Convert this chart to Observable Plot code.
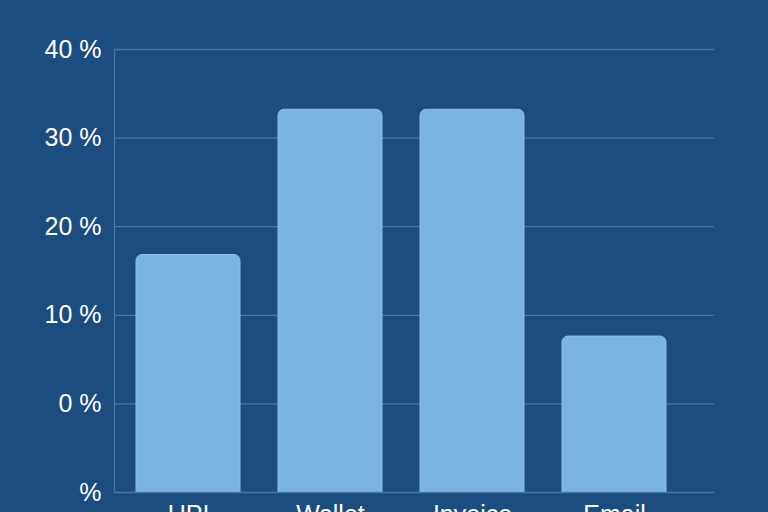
<!DOCTYPE html>
<html>
<head>
<meta charset="utf-8">
<script src="https://cdn.jsdelivr.net/npm/d3@7"></script>
<script src="https://cdn.jsdelivr.net/npm/@observablehq/plot@0.6"></script>
<style>
  html, body { margin: 0; padding: 0; background: #1b4d81; }
  #chart svg { display: block; }
</style>
</head>
<body>
<div id="chart"></div>
<script>
const categories = ["UPI", "Wallet", "Invoice", "Email"];
const shares = [16.8, 33.2, 33.2, 7.6];
const yTicks = [-10, 0, 10, 20, 30, 40];

const data = categories.map((c, i) => ({category: c, share: shares[i]}));

const plot = Plot.plot({
  width: 768,
  height: 512,
  marginLeft: 114,
  marginRight: 54,
  marginTop: 49,
  marginBottom: 20,
  style: {background: "#1b4d81", color: "#ffffff", fontFamily: "'Liberation Sans', Arial, sans-serif", fontSize: "25px", overflow: "visible"},
  x: {domain: categories, range: [116, 686], paddingInner: 0.27, paddingOuter: 0.135, label: null},
  y: {domain: [-10, 40], label: null},
  marks: [
    Plot.ruleY(yTicks.filter(d => d > -10), {stroke: "#4677aa", strokeWidth: 1.3}),
    Plot.barY(data, {x: "category", y1: -11.5, y2: "share", fill: "#7ab4e1", stroke: "#8cc0e8", strokeWidth: 1, rx: 6, clip: "frame"}),
    Plot.ruleY([-10], {stroke: "#4677aa", strokeWidth: 1.5}),
    Plot.frame({anchor: "left", stroke: "#4677aa", strokeWidth: 1.3}),
    Plot.axisY({ticks: yTicks, tickSize: 0, tickPadding: 13, tickFormat: d => d < 0 ? "%" : d + " %", fill: "#ffffff", fontSize: 25, label: null}),
    Plot.axisX({tickSize: 0, tickPadding: 13, fill: "#ffffff", fontSize: 25, label: null})
  ]
});
document.getElementById("chart").append(plot);
</script>
</body>
</html>
